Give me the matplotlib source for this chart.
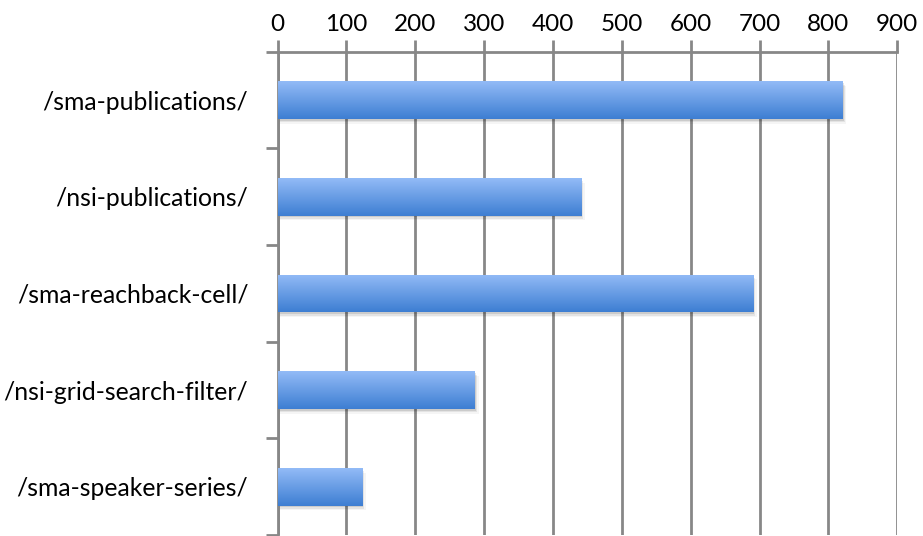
import numpy as np
import matplotlib.pyplot as plt
from matplotlib.patches import Rectangle

# data
categories = ["/sma-publications/", "/nsi-publications/", "/sma-reachback-cell/",
              "/nsi-grid-search-filter/", "/sma-speaker-series/"]
values = [820, 440, 690, 286, 122]
xticks = [0, 100, 200, 300, 400, 500, 600, 700, 800, 900]

plt.rcParams['font.family'] = ['Lato', 'DejaVu Sans']

W, H = 923, 536
fig = plt.figure(figsize=(W / 100, H / 100), dpi=100)
x0, x1 = 277.5, 897.3
ytop, ybot = 51.7, 535.0
ax = fig.add_axes([x0 / W, 1 - ybot / H, (x1 - x0) / W, (ybot - ytop) / H])

n = len(categories)
ypos = np.arange(n)
bar_h = 0.39
grey = '#878787'

# vertical gradient, light on top
grad = np.linspace(0, 1, 256).reshape(256, 1, 1)
top_c = np.array([0x93, 0xBB, 0xF7]).reshape(1, 1, 3) / 255
bot_c = np.array([0x3D, 0x7E, 0xD2]).reshape(1, 1, 3) / 255
img = top_c + (bot_c - top_c) * grad

for y, v in zip(ypos, values):
    # soft shadow under bar
    for k, a in enumerate([0.10, 0.07, 0.04]):
        sh = Rectangle((0, y - bar_h / 2 + 0.02 + k * 0.015), v + 2 + k * 2, bar_h,
                       facecolor='black', edgecolor='none', alpha=a, zorder=2)
        ax.add_patch(sh)
    rect = Rectangle((0, y - bar_h / 2), v, bar_h, facecolor='none',
                     edgecolor='none', zorder=3)
    ax.add_patch(rect)
    im = ax.imshow(img, extent=(0, v, y + bar_h / 2, y - bar_h / 2),
                   aspect='auto', zorder=3, interpolation='bilinear')
    im.set_clip_path(rect)

ax.set_xlim(0, 900)
ax.set_ylim(n - 0.5, -0.5)

ax.xaxis.tick_top()
ax.set_xticks(xticks)
ax.set_xticklabels([str(t) for t in xticks], fontsize=17.5)
ax.tick_params(axis='x', direction='out', length=9, width=2, color=grey, pad=3)
ax.grid(axis='x', color=grey, linewidth=2, zorder=1)
ax.set_axisbelow(True)

ax.set_yticks(ypos)
ax.set_yticklabels(categories, fontsize=17.8)
ax.set_yticks(np.arange(n + 1) - 0.5, minor=True)
ax.tick_params(axis='y', which='major', length=0, pad=21)
ax.tick_params(axis='y', which='minor', length=9, width=2, color=grey, direction='out')

for s in ['right', 'bottom']:
    ax.spines[s].set_visible(False)
ax.spines['left'].set_color(grey)
ax.spines['left'].set_linewidth(2)
ax.spines['top'].set_color(grey)
ax.spines['top'].set_linewidth(2)

fig.savefig('out.png', dpi=100)
